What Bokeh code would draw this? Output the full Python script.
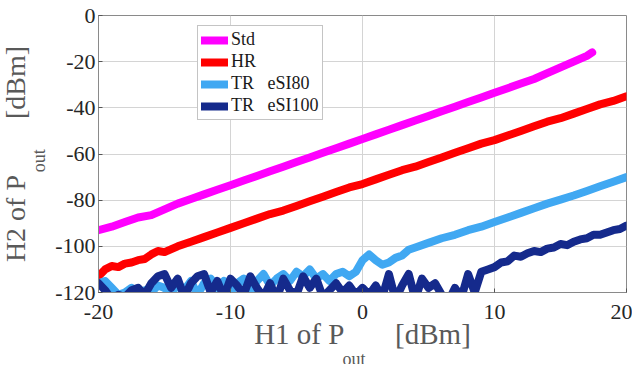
from bokeh.plotting import figure
from bokeh.models import Title, Range1d
from bokeh.embed import file_html
from bokeh.resources import INLINE

# ---- data ----
std_x = [-20, -19, -18, -17, -16, -15, -14, -13, -12, -11, -10, -9, -8, -7, -6, -5, -4, -3, -2, -1,
         0, 1, 2, 3, 4, 5, 6, 7, 8, 9, 10, 11, 12, 13, 14, 15, 16, 17, 17.4]
std_y = [-93, -91.5, -89.5, -87.5, -86.5, -84, -81.5, -79.5, -77.5, -75.5, -73.5, -71.5, -69.5, -67.5,
         -65.5, -63.5, -61.5, -59.5, -57.5, -55.5, -53.5, -51.5, -49.5, -47.5, -45.5, -43.5, -41.5,
         -39.5, -37.5, -35.5, -33.5, -31.5, -29.5, -27.5, -25, -22.5, -20, -17.5, -16]

hr_x = [-20, -19.5, -19, -18.5, -18, -17.5, -17, -16.5, -16, -15.5, -15, -14, -13, -12, -11, -10,
        -9, -8, -7, -6, -5, -4, -3, -2, -1, 0, 1, 2, 3, 4, 5, 6, 7, 8, 9, 10, 11, 12, 13, 14, 15,
        16, 17, 18, 19, 20]
hr_y = [-113, -110, -108.5, -109, -107.5, -107, -106, -105.5, -103.5, -102, -102.5, -100, -98, -96,
        -94, -92, -90, -88, -86, -84.5, -82.5, -80.5, -78.5, -76.5, -74.5, -73, -71, -69, -67, -65.5,
        -63.5, -61.5, -59.5, -57.5, -55.5, -54, -52, -50, -48, -46, -44.5, -42.5, -40.5, -38.5, -37, -35]

e80_x = [-20, -19.5, -19, -18.5, -18, -17.5, -17, -16.5, -16, -15.5, -15, -14.5, -14, -13.5, -13,
         -12.5, -12, -11.5, -11, -10.5, -10, -9.5, -9, -8.5, -8, -7.5, -7, -6.5, -6, -5.5, -5, -4.5,
         -4, -3.5, -3, -2.5, -2, -1.5, -1, -0.5, 0, 0.5, 1, 1.5, 2, 2.5, 3, 3.5, 4, 5, 6, 7, 8, 9,
         10, 11, 12, 13, 14, 15, 16, 17, 18, 19, 20]
e80_y = [-116, -115, -118, -121, -120, -118, -121, -119, -120, -117, -118, -121, -116, -119, -115,
         -121, -116, -114, -118, -115, -120, -116, -114, -121, -115, -112, -117, -114, -112, -115,
         -111, -113, -110, -114, -112, -115, -112, -111, -113, -111, -106, -103.5, -106, -108, -107,
         -105, -104, -101.5, -100.5, -98.5, -96.5, -95, -93, -91.5, -89.5, -87.5, -85.5, -83.5, -81.5,
         -79.8, -78, -76, -74, -72, -70]

e100_x = [-20, -19.5, -19, -18.5, -18, -17.5, -17, -16.5, -16, -15.5, -15, -14.5, -14, -13.5, -13,
          -12.5, -12, -11.5, -11, -10.5, -10, -9.5, -9, -8.5, -8, -7.5, -7, -6.5, -6, -5.5, -5, -4.5,
          -4, -3.5, -3, -2.5, -2, -1.5, -1, -0.5, 0, 0.5, 1, 1.5, 2, 2.5, 3, 3.5, 4, 4.5, 5, 5.5, 6,
          6.5, 7, 7.5, 8, 8.5, 9, 9.5, 10, 10.5, 11, 11.5, 12, 12.5, 13, 13.5, 14, 14.5, 15, 15.5, 16,
          16.5, 17, 17.5, 18, 18.5, 19, 19.5, 20]
e100_y = [-116, -119, -123, -121, -122, -119, -118, -121, -116, -113, -112, -118, -114, -122, -116,
          -113, -112, -120, -115, -122, -114, -117, -121, -113, -118, -122, -116, -123, -114, -119,
          -121, -113, -118, -114, -122, -119, -116, -120, -117, -121, -118, -121, -117, -122, -112,
          -123, -117, -112, -123, -114, -118, -116, -121, -124, -118, -122, -112, -120, -111, -110,
          -109, -107, -106.5, -104, -104.5, -103, -102, -102.5, -101, -100.5, -99, -99.5, -98, -97,
          -96.5, -95, -95, -94, -93, -92.5, -91]

series_names = ["Std", "HR", "TR   eSI80", "TR   eSI100"]
series_colors = ["#FF00FF", "#FF0000", "#40A8F2", "#152A8C"]

x_ticks = [-20, -10, 0, 10, 20]
x_tick_labels = ["-20", "-10", "0", "10", "20"]
y_ticks = [-120, -100, -80, -60, -40, -20, 0]
y_tick_labels = ["-120", "-100", "-80", "-60", "-40", "-20", "0"]

NB = "\u00a0"
x_label_main = "H1 of P" + NB * 7 + "[dBm]"
y_label_main = "H2 of P" + NB * 8 + "[dBm]"
sub_text = "out"

SERIF = "Liberation Serif"
LAB_COL = "#595959"

p = figure(width=632, height=364, output_backend="svg", toolbar_location=None,
           x_range=Range1d(-20, 20), y_range=Range1d(-120, 0),
           min_border_left=98, min_border_right=6, min_border_top=15, min_border_bottom=72)
p.background_fill_color = "white"
p.border_fill_color = "white"
p.outline_line_color = "#8a8a8a"
p.outline_line_width = 1

for xs, ys, name, col in zip([std_x, hr_x, e80_x, e100_x], [std_y, hr_y, e80_y, e100_y],
                             series_names, series_colors):
    p.line(xs, ys, line_color=col, line_width=8, line_join="round", line_cap="round",
           legend_label=name)

p.xaxis.ticker = x_ticks
p.yaxis.ticker = y_ticks
p.xaxis.major_label_overrides = dict(zip(x_ticks, x_tick_labels))
p.yaxis.major_label_overrides = dict(zip(y_ticks, y_tick_labels))
for ax in (p.xaxis[0], p.yaxis[0]):
    ax.axis_line_color = "#8a8a8a"
    ax.major_tick_line_color = "#555555"
    ax.major_tick_in = 4
    ax.major_tick_out = 0
    ax.minor_tick_line_color = None
    ax.major_label_text_font = SERIF
    ax.major_label_text_font_size = "22px"
    ax.major_label_text_color = "#262626"
    ax.axis_label_text_font = SERIF
    ax.axis_label_text_font_style = "normal"
    ax.axis_label_text_color = LAB_COL
p.xaxis.major_label_standoff = 12
p.yaxis.major_label_standoff = 3

# x: main text is the axis label, subscript is a title below it
p.xaxis.axis_label = x_label_main
p.xaxis.axis_label_text_font_size = "29px"
p.xaxis.axis_label_standoff = -4
p.add_layout(Title(text=sub_text, align="left", offset=244, standoff=-12,
                   text_font=SERIF, text_font_size="18px", text_font_style="normal",
                   text_color=LAB_COL), "below")

# y: subscript is the axis label (next to ticks), main text is a title further out
p.yaxis.axis_label = sub_text + NB * 3
p.yaxis.axis_label_text_font_size = "18px"
p.yaxis.axis_label_standoff = 3
p.add_layout(Title(text=y_label_main, align="center", standoff=-9,
                   text_font=SERIF, text_font_size="28px", text_font_style="normal",
                   text_color=LAB_COL), "left")

p.xgrid.grid_line_color = "#d4d4d4"
p.ygrid.grid_line_color = "#d4d4d4"

leg = p.legend[0]
leg.location = (99, 172)
leg.label_text_font = SERIF
leg.label_text_font_size = "18px"
leg.label_text_color = "#1a1a1a"
leg.glyph_width = 27
leg.glyph_height = 16
leg.label_height = 16
leg.spacing = 1
leg.padding = 3
leg.margin = 0
leg.label_standoff = 3
leg.border_line_color = "#8a8a8a"
leg.border_line_width = 1
leg.background_fill_alpha = 1.0

open("out.html", "w").write(file_html(p, INLINE))
